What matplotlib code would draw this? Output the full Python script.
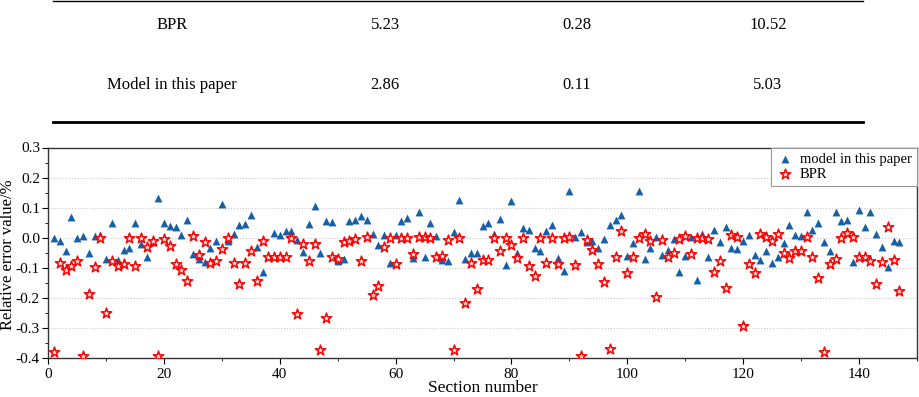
import numpy as np
import matplotlib.pyplot as plt
from matplotlib.lines import Line2D
from matplotlib.ticker import MultipleLocator

plt.rcParams['font.family'] = ['Liberation Serif', 'DejaVu Serif']

# table rows above the plot
tabla_nombres = ["BPR", "Model in this paper"]
tabla_valores = [["5.23", "0.28", "10.52"],
                 ["2.86", "0.11", "5.03"]]

# relative error per section (1..147)
modelo = [0.00, -0.01, -0.043, 0.069, 0.00, 0.005, -0.052, 0.007, 0.01, -0.07,
          0.05, -0.073, -0.04, -0.033, 0.05, -0.022, -0.065, -0.014, 0.132, 0.049,
          0.04, 0.035, 0.009, 0.059, -0.055, -0.07, -0.082, -0.033, -0.012, 0.113,
          -0.01, 0.012, 0.041, 0.047, 0.076, -0.032, -0.115, -0.06, 0.015, 0.008,
          0.023, 0.021, -0.008, -0.047, 0.046, 0.107, -0.05, 0.055, 0.053, -0.076,
          -0.072, 0.056, 0.058, 0.071, 0.059, 0.014, -0.024, 0.01, -0.083, 0.008,
          0.056, 0.066, -0.068, 0.085, -0.064, 0.048, 0.007, -0.075, -0.079, 0.02,
          0.125, -0.07, -0.052, -0.052, 0.038, 0.05, 0.012, 0.061, -0.09, 0.121,
          -0.05, 0.033, 0.024, -0.033, -0.045, 0.022, 0.042, -0.067, -0.11, 0.154,
          0.003, 0.019, -0.013, -0.01, -0.033, -0.005, 0.041, 0.059, 0.076, -0.062,
          -0.018, 0.155, -0.07, -0.035, 0.004, -0.058, -0.04, -0.005, -0.114, -0.062,
          0.002, -0.141, 0.011, -0.064, 0.027, -0.014, 0.035, -0.033, -0.037, -0.012,
          0.01, -0.058, -0.073, -0.045, -0.085, -0.063, -0.018, 0.043, 0.01, 0.007,
          0.086, 0.026, 0.05, -0.013, -0.043, 0.085, 0.056, 0.059, -0.08, 0.092,
          0.036, 0.086, 0.012, -0.032, -0.097, -0.012, -0.015]

bpr = [-0.38, -0.085, -0.108, -0.095, -0.076, -0.395, -0.187, -0.099, -0.001, -0.25,
       -0.077, -0.095, -0.089, 0.0, -0.093, -0.001, -0.03, -0.01, -0.395, -0.004,
       -0.027, -0.089, -0.107, -0.143, 0.005, -0.056, -0.015, -0.083, -0.079, -0.037,
       -0.002, -0.083, -0.155, -0.083, -0.044, -0.145, -0.01, -0.063, -0.065, -0.065,
       -0.063, -0.002, -0.254, -0.02, -0.076, -0.022, -0.375, -0.268, -0.065, -0.07,
       -0.015, -0.01, -0.004, -0.076, 0.001, -0.192, -0.16, -0.032, -0.001, -0.089,
       -0.002, -0.002, -0.054, 0.001, 0.001, -0.002, -0.063, -0.06, -0.007, -0.373,
       -0.002, -0.218, -0.085, -0.169, -0.073, -0.074, -0.001, -0.043, -0.002, -0.025,
       -0.066, 0.0, -0.093, -0.127, -0.002, -0.085, -0.001, -0.087, -0.001, 0.004,
       -0.091, -0.392, -0.009, -0.042, -0.086, -0.148, -0.369, -0.065, 0.021, -0.118,
       -0.064, -0.001, 0.011, -0.01, -0.198, -0.008, -0.065, -0.05, -0.005, 0.005,
       -0.055, 0.0, -0.002, -0.004, -0.114, -0.078, -0.167, 0.01, 0.004, -0.292,
       -0.086, -0.119, 0.014, 0.003, -0.01, 0.011, -0.05, -0.069, -0.044, -0.044,
       0.004, -0.065, -0.133, -0.38, -0.087, -0.071, -0.001, 0.015, 0.004, -0.065,
       -0.065, -0.076, -0.155, -0.081, 0.037, -0.074, -0.177]

seccion = np.arange(1, len(modelo) + 1)

fig = plt.figure(figsize=(9.2, 3.97), dpi=100)

# three line table
fig.add_artist(Line2D([53/920, 863/920], [1 - 1/397, 1 - 1/397], color="black", lw=1.0))
fig.add_artist(Line2D([53/920, 863/920], [1 - 122/397, 1 - 122/397], color="black", lw=2.0))
cols = [172, 385, 577, 768]
filas = [25, 85]
for i in range(len(tabla_nombres)):
    y = 1 - filas[i]/397
    fig.text(cols[0]/920, y, tabla_nombres[i], ha="center", va="center", fontsize=12)
    for j in range(3):
        fig.text(cols[j+1]/920, y, tabla_valores[i][j], ha="center", va="center", fontsize=12)

ax = fig.add_axes([48.3/920, 39/397, 868.4/920, 210.5/397])
ax.scatter(seccion, modelo, marker="^", s=32, color="#1660a8", linewidths=0,
           label="model in this paper", zorder=3)
ax.scatter(seccion, bpr, marker="*", s=60, facecolors="#ffe8e8", edgecolors="#ff0000",
           linewidths=1.1, label="BPR", zorder=4)

ax.set_xlim(0, 150)
ax.set_ylim(-0.4, 0.3)
ax.xaxis.set_major_locator(MultipleLocator(20))
ax.xaxis.set_minor_locator(MultipleLocator(10))
ax.yaxis.set_major_locator(MultipleLocator(0.1))
ax.yaxis.set_minor_locator(MultipleLocator(0.05))
ax.yaxis.set_major_formatter(plt.FuncFormatter(lambda v, p: "%.1f" % v))
ax.tick_params(axis="both", which="major", direction="out", length=4, labelsize=11)
ax.tick_params(axis="y", which="major", pad=2)
ax.tick_params(axis="both", which="minor", direction="out", length=2)
ax.grid(axis="y", which="major", linestyle=":", color="#c8c8c8", lw=0.8)
ax.set_axisbelow(True)
for s in ax.spines.values():
    s.set_color("#333333")
    s.set_linewidth(1.0)

ax.set_xlabel("Section number", fontsize=12.5)
ax.xaxis.label.set_va("center")
ax.xaxis.set_label_coords(0.5, -0.142)
ax.set_ylabel("Relative error value/%", fontsize=12)
ax.yaxis.label.set_va("center")
ax.yaxis.set_label_coords(-0.0465, 0.49)
leg = ax.legend(loc="upper right", fontsize=10.5, fancybox=False, framealpha=1,
                edgecolor="#999999", handletextpad=0.4, borderaxespad=0.0,
                labelspacing=0.15, borderpad=0.35, handlelength=1.2)
leg.get_frame().set_linewidth(0.8)

plt.savefig("out.png", dpi=100)
